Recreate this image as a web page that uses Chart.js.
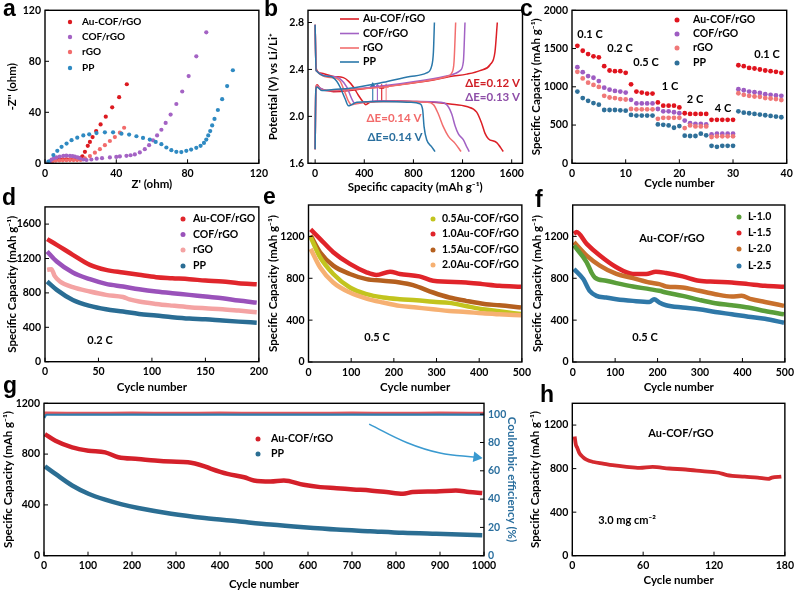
<!DOCTYPE html>
<html>
<head>
<meta charset="utf-8">
<script src="https://cdn.jsdelivr.net/npm/chart.js@4.4.1/dist/chart.umd.min.js"></script>
<style>
  body { margin: 0; background: #fff; width: 798px; height: 592px; position: relative; overflow: hidden; }
  canvas { position: absolute; }
  .bg { background: #fff; }
  .lbl { position: absolute; z-index: 5; font: bold 23px "Liberation Sans", Arial, sans-serif; line-height: 1; }
</style>
</head>
<body>
<div class="lbl" style="left:3px;top:-3px">a</div>
<div class="lbl" style="left:264px;top:-3px">b</div>
<div class="lbl" style="left:520px;top:-3px">c</div>
<div class="lbl" style="left:2px;top:186px">d</div>
<div class="lbl" style="left:263px;top:185px">e</div>
<div class="lbl" style="left:535px;top:188px">f</div>
<div class="lbl" style="left:3px;top:374px">g</div>
<div class="lbl" style="left:540px;top:383px">h</div>
<script>
// ---- a: Nyquist plots (ohm) ----
const aAuX = [2, 3, 4, 5, 6, 8, 10, 12, 14, 16, 18, 19.5, 20.3, 21, 22.4, 24, 25.2, 26.7, 28.7, 31.2, 34.1, 37.7, 41.6, 45.9];
const aAuY = [0.2, 1.2, 2.0, 2.5, 2.8, 3.0, 3.1, 3.1, 3.1, 3.2, 3.3, 3.6, 4.5, 5.5, 9.0, 13.7, 16.8, 20.6, 25.3, 30.5, 36.6, 43.9, 51.9, 62.0];
const aCofX = [1.9, 2.8, 3.7, 5.0, 6.5, 8.3, 10.3, 12.0, 14.0, 15.5, 16.8, 18.3, 19.6, 21.5, 23.3, 26.0, 29.0, 32.0, 36.4, 40.0, 42.0, 45.7, 48.0, 50.4, 53.2, 56.0, 58.4, 60.6, 62.9, 65.3, 67.7, 70.5, 73.7, 77.0, 80.6, 84.9, 90.5];
const aCofY = [0.5, 1.8, 3.0, 4.0, 4.6, 5.3, 5.9, 6.0, 5.9, 5.6, 5.2, 4.6, 3.9, 3.0, 2.6, 3.0, 3.6, 4.0, 4.6, 5.0, 5.4, 5.9, 6.3, 7.0, 8.5, 11.1, 14.2, 18.0, 21.9, 26.3, 31.7, 38.2, 46.5, 56.3, 68.4, 83.9, 102.7];
const aRgoX = [2, 3, 4, 6, 8, 10, 12, 14, 16, 18, 20, 22.4, 25.2, 28, 30.8, 33.6, 36.4, 39.2, 42, 44.4];
const aRgoY = [0.3, 1.0, 1.5, 2.0, 2.2, 2.3, 2.4, 2.5, 2.5, 2.5, 2.6, 3.9, 5.7, 8.3, 11.1, 14.2, 17.5, 20.6, 24.0, 27.9];
const aPpX = [1.9, 4.7, 6.9, 9.3, 12.1, 14.9, 18.1, 21.5, 24.8, 28.9, 33.6, 38.2, 42.9, 47.2, 51.3, 55.0, 58.8, 62.1, 65.3, 68.1, 70.9, 73.7, 76.5, 79.3, 82.0, 84.9, 87.3, 89.2, 90.5, 91.6, 92.7, 93.8, 95.1, 97.0, 99.4, 102.2, 105.4];
const aPpY = [1.3, 6.5, 9.8, 12.9, 15.5, 18.1, 20.1, 21.9, 22.7, 23.7, 24.3, 24.3, 23.2, 22.5, 21.2, 19.9, 18.6, 16.8, 15.0, 12.4, 10.3, 9.0, 8.8, 9.8, 10.8, 12.1, 13.7, 16.0, 18.6, 21.9, 25.3, 29.7, 34.8, 41.8, 50.3, 60.6, 73.0];
const aTicks = [0, 40, 80, 120];

// ---- b: charge/discharge profiles ----
const bAuDisX = [0, 8, 41, 149, 230, 271, 312, 352, 393, 412, 447, 556, 691, 827, 963, 1098, 1234, 1315, 1356, 1383, 1410, 1478, 1532];
const bAuDisY = [2.78, 2.41, 2.37, 2.34, 2.33, 2.30, 2.25, 2.18, 2.12, 2.10, 2.12, 2.13, 2.13, 2.126, 2.12, 2.106, 2.084, 2.036, 1.94, 1.855, 1.81, 1.776, 1.70];
const bAuChX = [0, 6, 16, 40, 95, 149, 285, 420, 691, 963, 1098, 1234, 1342, 1424, 1464, 1483];
const bAuChY = [1.72, 2.25, 2.27, 2.24, 2.22, 2.21, 2.22, 2.24, 2.27, 2.31, 2.34, 2.36, 2.39, 2.44, 2.55, 2.80];
const bCofDisX = [0, 8, 149, 203, 258, 298, 325, 352, 393, 556, 827, 1017, 1071, 1112, 1139, 1166, 1207, 1234, 1255];
const bCofDisY = [2.78, 2.39, 2.34, 2.32, 2.25, 2.15, 2.11, 2.11, 2.12, 2.13, 2.126, 2.12, 2.10, 2.02, 1.92, 1.85, 1.80, 1.74, 1.70];
const bCofChX = [0, 6, 14, 41, 95, 285, 556, 827, 1098, 1180, 1207, 1220];
const bCofChY = [1.72, 2.24, 2.26, 2.24, 2.22, 2.23, 2.26, 2.30, 2.35, 2.39, 2.47, 2.80];
const bRgoDisX = [0, 8, 149, 203, 244, 271, 298, 339, 420, 691, 908, 963, 1003, 1044, 1085, 1139, 1188];
const bRgoDisY = [2.78, 2.39, 2.33, 2.30, 2.20, 2.13, 2.10, 2.11, 2.12, 2.126, 2.12, 2.10, 2.02, 1.91, 1.83, 1.77, 1.70];
const bRgoChX = [0, 6, 14, 41, 95, 285, 556, 827, 1071, 1112, 1131, 1144];
const bRgoChY = [1.72, 2.24, 2.26, 2.23, 2.22, 2.23, 2.25, 2.29, 2.34, 2.37, 2.47, 2.80];
const bPpDisX = [0, 8, 122, 176, 203, 244, 271, 298, 339, 556, 773, 854, 876, 887, 908, 949, 976];
const bPpDisY = [2.78, 2.39, 2.34, 2.30, 2.25, 2.15, 2.09, 2.10, 2.12, 2.126, 2.12, 2.106, 2.05, 1.91, 1.80, 1.74, 1.70];
const bPpChX = [0, 6, 14, 54, 149, 285, 556, 773, 908, 949, 963, 971];
const bPpChY = [1.72, 2.23, 2.25, 2.22, 2.23, 2.24, 2.29, 2.34, 2.37, 2.43, 2.55, 2.80];
const bGapX = [469, 507, 542, 578];          // PP, COF/rGO, Au-COF/rGO, rGO
const bGapLo = [2.13, 2.13, 2.13, 2.13];
const bGapHi = [2.265, 2.255, 2.25, 2.255];
const bXTicks = [0, 400, 800, 1200, 1600];
const bYTicks = [1.6, 2.0, 2.4, 2.8];

// ---- c: rate performance ----
const cCycle = [1, 2, 3, 4, 5, 6, 7, 8, 9, 10, 11, 12, 13, 14, 15, 16, 17, 18, 19, 20, 21, 22, 23, 24, 25, 26, 27, 28, 29, 30, 31, 32, 33, 34, 35, 36, 37, 38, 39];
const cAu = [1535, 1471, 1428, 1398, 1385, 1269, 1213, 1204, 1204, 1183, 1032, 938, 925, 912, 912, 796, 753, 753, 753, 731, 654, 645, 645, 645, 645, 568, 568, 568, 568, 568, 1282, 1269, 1247, 1239, 1226, 1213, 1204, 1196, 1183];
const cCof = [1256, 1191, 1140, 1118, 1075, 989, 963, 946, 938, 925, 830, 783, 783, 783, 783, 710, 680, 680, 667, 654, 559, 525, 516, 516, 508, 378, 387, 387, 387, 387, 968, 955, 938, 929, 920, 903, 895, 886, 882];
const cRgo = [1196, 1110, 1054, 1024, 998, 882, 860, 852, 839, 834, 710, 705, 705, 705, 705, 581, 594, 594, 594, 594, 460, 495, 482, 482, 482, 344, 353, 353, 353, 353, 916, 895, 882, 873, 869, 852, 847, 839, 826];
const cPp = [938, 852, 817, 787, 766, 697, 697, 697, 692, 688, 632, 624, 624, 624, 624, 508, 503, 495, 465, 486, 361, 357, 357, 387, 366, 228, 215, 228, 228, 228, 680, 662, 654, 645, 637, 628, 619, 611, 602];
const cRates = ['0.1 C', '0.2 C', '0.5 C', '1 C', '2 C', '4 C', '0.1 C'];
const cXTicks = [0, 10, 20, 30, 40];
const cYTicks = [0, 500, 1000, 1500, 2000];

// ---- d: cycling at 0.2 C ----
const dX = [2, 11, 26, 42, 57, 73, 88, 104, 119, 135, 150, 166, 181, 198];
const dAu = [1425, 1359, 1243, 1126, 1068, 1037, 1010, 983, 971, 959, 944, 932, 913, 901];
const dCof = [1282, 1165, 1037, 959, 905, 874, 843, 816, 796, 777, 757, 738, 711, 687];
const dRgoX = [2, 6, 9, 14, 26, 42, 57, 73, 79, 88, 104, 119, 135, 150, 166, 181, 198];
const dRgo = [1068, 1076, 998, 932, 866, 816, 777, 752, 725, 700, 672, 652, 633, 621, 610, 594, 575];
const dPp = [932, 835, 718, 649, 610, 583, 555, 536, 517, 501, 493, 478, 466, 454];
const dXTicks = [0, 50, 100, 150, 200];
const dYTicks = [0, 400, 800, 1200, 1600];

// ---- e: Au loading, 0.5 C ----
const eX05 = [5, 27, 58, 97, 136, 175, 214, 253, 292, 330, 369, 408, 447, 498];
const eY05 = [1193, 1001, 841, 712, 648, 616, 600, 590, 575, 565, 535, 505, 485, 458];
const eX10 = [5, 27, 58, 97, 136, 159, 191, 214, 260, 292, 369, 408, 447, 498];
const eY10 = [1267, 1177, 1049, 937, 857, 831, 863, 841, 818, 776, 760, 744, 728, 719];
const eX15 = [5, 27, 58, 97, 136, 175, 214, 245, 292, 330, 369, 416, 447, 498];
const eY15 = [1209, 1049, 921, 841, 792, 776, 760, 735, 664, 616, 584, 552, 542, 520];
const eX20 = [5, 27, 58, 97, 136, 175, 214, 253, 292, 330, 369, 408, 447, 498];
const eY20 = [1081, 905, 760, 664, 606, 568, 536, 520, 504, 488, 478, 465, 456, 446];
const efXTicks = [0, 100, 200, 300, 400, 500];
const efYTicks = [0, 400, 800, 1200];

// ---- f: L series, 0.5 C ----
const fX10 = [3, 33, 44, 52, 79, 103, 142, 181, 204, 220, 259, 298, 336, 375, 414, 453, 498];
const fY10 = [1113, 953, 857, 808, 776, 754, 722, 696, 680, 664, 632, 594, 562, 542, 520, 488, 456];
const fX15 = [3, 9, 33, 64, 103, 142, 173, 196, 220, 259, 298, 336, 375, 414, 453, 498];
const fY15 = [1225, 1241, 1129, 1017, 905, 841, 841, 863, 850, 818, 776, 767, 760, 744, 728, 719];
const fX20 = [3, 33, 64, 103, 142, 181, 204, 220, 259, 298, 336, 375, 398, 421, 453, 498];
const fY20 = [1145, 1017, 921, 841, 802, 760, 744, 722, 712, 680, 648, 626, 632, 600, 574, 536];
const fX25 = [3, 25, 40, 56, 79, 103, 142, 181, 192, 204, 220, 259, 298, 336, 375, 414, 453, 498];
const fY25 = [889, 792, 680, 632, 616, 600, 584, 574, 600, 568, 542, 520, 504, 478, 456, 433, 414, 375];

// ---- g: long cycling ----
const gAuX = [2, 26, 64, 101, 139, 169, 214, 252, 289, 327, 365, 380, 417, 455, 477, 515, 545, 590, 628, 665, 703, 741, 778, 816, 838, 891, 936, 966, 996];
const gAuY = [957, 905, 853, 827, 814, 775, 762, 749, 741, 736, 704, 684, 644, 618, 592, 584, 592, 558, 540, 532, 522, 514, 501, 488, 501, 506, 514, 501, 493];
const gPpX = [2, 26, 64, 101, 139, 177, 214, 289, 365, 440, 515, 590, 665, 741, 816, 891, 996];
const gPpY = [704, 644, 553, 488, 441, 404, 376, 331, 297, 271, 245, 224, 206, 193, 180, 172, 162];
const gCeX = [1, 5, 100, 200, 300, 400, 500, 600, 700, 800, 900, 1000];
const gCeAu = [100.6, 100.6, 100.5, 100.6, 100.5, 100.6, 100.5, 100.5, 100.6, 100.5, 100.6, 100.5];
const gCePp = [97.4, 99.6, 99.7, 99.7, 99.7, 99.7, 99.7, 99.7, 99.7, 99.7, 99.7, 99.7];
const gArrowX = [739, 824, 900, 983];
const gArrowY = [1036, 892, 809, 775];
const gXTicks = [0, 100, 200, 300, 400, 500, 600, 700, 800, 900, 1000];
const gYTicks = [0, 400, 800, 1200];
const gY2Ticks = [0, 20, 40, 60, 80, 100];

// ---- h: high loading ----
const hX = [2, 3, 4, 6, 9, 12, 18, 26, 34, 46, 57, 68, 82, 96, 110, 124, 131, 146, 157, 166, 169, 177];
const hY = [1095, 1020, 996, 942, 906, 882, 861, 846, 831, 816, 807, 816, 801, 792, 777, 762, 741, 726, 717, 705, 717, 726];
const hXTicks = [0, 60, 120, 180];
const hYTicks = [0, 400, 800, 1200];

const FONT = 'Lato, "DejaVu Sans", sans-serif';
Chart.defaults.font.family = FONT;
Chart.defaults.font.weight = 'bold';
Chart.defaults.color = '#000';

// frame, inward ticks, in-plot legend and notes
const deco = {
  id: 'deco',
  afterDatasetsDraw(chart, args, o) {
    const ctx = chart.ctx, a = chart.chartArea;
    const ox = o.ox || 0, oy = o.oy || 0;
    ctx.save();
    ctx.strokeStyle = '#000';
    ctx.lineWidth = 1;
    Object.values(chart.scales).forEach(s => {
      s.ticks.forEach(t => {
        const p = s.getPixelForValue(t.value);
        ctx.beginPath();
        if (s.axis === 'x') { ctx.moveTo(p, a.bottom); ctx.lineTo(p, a.bottom - 4); }
        else if (s.position === 'right') { ctx.moveTo(a.right, p); ctx.lineTo(a.right - 4, p); }
        else { ctx.moveTo(a.left, p); ctx.lineTo(a.left + 4, p); }
        ctx.stroke();
      });
    });
    ctx.lineWidth = 1.4;
    ctx.strokeRect(a.left, a.top, a.right - a.left, a.bottom - a.top);

    if (o.legend) {
      const L = o.legend;
      ctx.font = 'bold ' + (L.size || 10.5) + 'px ' + FONT;
      ctx.textBaseline = 'middle';
      ctx.textAlign = 'left';
      L.order.forEach((di, i) => {
        const ds = chart.data.datasets[di];
        const y = L.rows[i] - oy;
        ctx.fillStyle = ds.borderColor;
        ctx.strokeStyle = ds.borderColor;
        if (L.line) {
          ctx.lineWidth = 1.6;
          ctx.beginPath(); ctx.moveTo(L.mx - ox, y); ctx.lineTo(L.mx2 - ox, y); ctx.stroke();
        } else {
          ctx.beginPath(); ctx.arc(L.mx - ox, y, L.r || 2.5, 0, Math.PI * 2); ctx.fill();
        }
        ctx.fillStyle = '#000';
        ctx.fillText(ds.label, L.tx - ox, y);
      });
    }
    (o.texts || []).forEach(t => {
      ctx.font = 'bold ' + (t.size || 11) + 'px ' + FONT;
      ctx.fillStyle = t.color || '#000';
      ctx.textAlign = t.align || 'center';
      ctx.textBaseline = 'middle';
      ctx.fillText(t.text, t.x - ox, t.y - oy);
    });
    ctx.restore();
  }
};
Chart.register(deco);

function pts(xs, ys) { return xs.map((x, i) => ({ x: x, y: ys[i] })); }
function dots(label, xs, ys, color, r) {
  return { label, data: pts(xs, ys), backgroundColor: color, borderColor: color, pointRadius: r, borderWidth: 0, showLine: false };
}
function curve(label, xs, ys, color, w) {
  return { label, data: pts(xs, ys), backgroundColor: color, borderColor: color, borderWidth: w,
    pointRadius: 0, showLine: true, cubicInterpolationMode: 'monotone' };
}

function axis(pos, o, fit) {
  return {
    type: 'linear', position: pos, min: o.min, max: o.max,
    afterBuildTicks: s => { s.ticks = o.ticks.map(v => ({ value: v })); },
    afterFit: fit,
    grid: { display: false, drawTicks: false },
    border: { display: false },
    ticks: { padding: 4, color: o.color || '#000', font: { size: 10.5, weight: 'bold' }, callback: o.fmt || (v => v) },
    title: { display: true, text: o.title, color: o.color || '#000', font: { size: 11.5, weight: 'bold' },
      padding: { top: o.pt == null ? 4 : o.pt, bottom: o.pb == null ? 4 : o.pb } }
  };
}

// box = canvas [left, top, w, h] on the page, plot = [L, T, R, B] page pixels of the plot frame
function makePanel(box, plot, datasets, sc, dec, cls) {
  const [left, top, w, h] = box, [L, T, R, B] = plot;
  const cv = document.createElement('canvas');
  cv.width = w; cv.height = h;
  cv.style.left = left + 'px'; cv.style.top = top + 'px';
  if (cls) cv.className = cls;
  document.body.appendChild(cv);
  const scales = {
    x: axis('bottom', sc.x, s => { s.height = top + h - B; }),
    y: axis('left', sc.y, s => { s.width = L - left; })
  };
  let padRight = left + w - R;
  if (sc.y2) {
    scales.y2 = axis('right', sc.y2, s => { s.width = left + w - R; });
    padRight = 0;
  }
  dec.ox = left; dec.oy = top;
  new Chart(cv, {
    type: 'scatter',
    data: { datasets },
    options: {
      responsive: false, animation: false, events: [],
      layout: { padding: { top: T - top, right: padRight, left: 0, bottom: 0 } },
      plugins: { legend: { display: false }, tooltip: { enabled: false }, deco: dec },
      scales
    }
  });
}

const CAP = 'Specific Capacity (mAh g\u207B\u00B9)';

// a
makePanel([1, 0, 271, 195], [45, 8.3, 259.3, 163.3], [
  dots('PP', aPpX, aPpY, '#2f8ac2', 2.1),
  dots('COF/rGO', aCofX, aCofY, '#a463c4', 2.1),
  dots('rGO', aRgoX, aRgoY, '#f26b6b', 2.1),
  dots('Au-COF/rGO', aAuX, aAuY, '#dc1a20', 2.1)
], {
  x: { min: 0, max: 120, ticks: aTicks, title: "Z' (ohm)", pb: 4.1 },
  y: { min: 0, max: 120, ticks: aTicks, title: "-Z'' (ohm)" }
}, { legend: { order: [3, 1, 2, 0], mx: 70, tx: 82, rows: [22, 37, 52, 68], size: 10, r: 2.2 } });

// b
const bDatasets = [
  curve('PP', bPpDisX, bPpDisY, '#2a78aa', 1.5),
  curve('PP', bPpChX, bPpChY, '#2a78aa', 1.5),
  curve('rGO', bRgoDisX, bRgoDisY, '#f26e6e', 1.5),
  curve('rGO', bRgoChX, bRgoChY, '#f26e6e', 1.5),
  curve('COF/rGO', bCofDisX, bCofDisY, '#a262c4', 1.5),
  curve('COF/rGO', bCofChX, bCofChY, '#a262c4', 1.5),
  curve('Au-COF/rGO', bAuDisX, bAuDisY, '#dc1f26', 1.5),
  curve('Au-COF/rGO', bAuChX, bAuChY, '#dc1f26', 1.5)
];
const bGapColors = ['#2a78aa', '#a262c4', '#dc1f26', '#f58a8a'];
bGapX.forEach((x, i) => {
  bDatasets.push({ label: 'gap', data: pts([x, x], [bGapLo[i], bGapHi[i]]), borderColor: bGapColors[i],
    backgroundColor: bGapColors[i], borderWidth: 1.1, showLine: true, pointRadius: [0, 2.2], pointStyle: 'triangle' });
});
makePanel([262, 0, 273, 195], [308, 8.3, 522.5, 163.3], bDatasets, {
  x: { min: -58, max: 1688, ticks: bXTicks, title: 'Specific capacity (mAh g\u207B\u00B9)', pb: 1.1 },
  y: { min: 1.6, max: 2.904, ticks: bYTicks, fmt: v => v.toFixed(1), title: 'Potential (V) vs Li/Li\u207A' }
}, {
  legend: { order: [6, 4, 2, 0], line: true, mx: 340, mx2: 359, tx: 363, rows: [19, 33.5, 48, 62], size: 10.5 },
  texts: [
    { text: '\u0394E=0.12 V', x: 520, y: 83, align: 'right', color: '#d01f26', size: 11.5 },
    { text: '\u0394E=0.13 V', x: 520, y: 97, align: 'right', color: '#8e4ea8', size: 11.5 },
    { text: '\u0394E=0.14 V', x: 394, y: 118, color: '#f26a6a', size: 11.5 },
    { text: '\u0394E=0.14 V', x: 395, y: 137, color: '#2a6f9e', size: 11.5 }
  ]
});

// c
makePanel([525, 0, 273, 195], [572, 8.3, 786.7, 163.3], [
  dots('PP', cCycle, cPp, '#2f7099', 2.4),
  dots('rGO', cCycle, cRgo, '#f07878', 2.4),
  dots('COF/rGO', cCycle, cCof, '#9e5cc2', 2.4),
  dots('Au-COF/rGO', cCycle, cAu, '#e0141e', 2.4)
], {
  x: { min: 0, max: 40, ticks: cXTicks, title: 'Cycle number', pb: 5 },
  y: { min: 0, max: 2000, ticks: cYTicks, title: CAP }
}, {
  legend: { order: [3, 2, 1, 0], mx: 677, tx: 693, rows: [20, 34, 48, 63] },
  texts: [
    { text: cRates[0], x: 590, y: 34 }, { text: cRates[1], x: 620, y: 48 }, { text: cRates[2], x: 646, y: 62 },
    { text: cRates[3], x: 670, y: 86 }, { text: cRates[4], x: 695, y: 99 }, { text: cRates[5], x: 723, y: 108 },
    { text: cRates[6], x: 767, y: 54 }
  ]
});

// d
makePanel([1, 192, 271, 207], [45, 206.9, 259.3, 361.7], [
  curve('PP', dX, dPp, '#2a6d94', 4.5),
  curve('rGO', dRgoX, dRgo, '#f4a3a3', 4.5),
  curve('COF/rGO', dX, dCof, '#9a52ba', 4.5),
  curve('Au-COF/rGO', dX, dAu, '#e0262c', 4.5)
], {
  x: { min: 0, max: 200, ticks: dXTicks, title: 'Cycle number', pb: 5.1 },
  y: { min: 0, max: 1800, ticks: dYTicks, title: CAP }
}, {
  legend: { order: [3, 2, 1, 0], mx: 183, tx: 193, rows: [219, 234.5, 250, 266] },
  texts: [{ text: '0.2 C', x: 100, y: 340 }]
});

// e
makePanel([262, 192, 273, 207], [308.5, 205, 523, 362], [
  curve('2.0Au-COF/rGO', eX20, eY20, '#f6b072', 4.5),
  curve('0.5Au-COF/rGO', eX05, eY05, '#c2c41e', 4.5),
  curve('1.5Au-COF/rGO', eX15, eY15, '#b5601f', 4.5),
  curve('1.0Au-COF/rGO', eX10, eY10, '#e0242a', 4.5)
], {
  x: { min: 0, max: 500, ticks: efXTicks, title: 'Cycle number', pb: 5.1 },
  y: { min: 0, max: 1500, ticks: efYTicks, title: CAP }
}, {
  legend: { order: [1, 3, 2, 0], mx: 433, tx: 442, rows: [219, 234, 250, 265] },
  texts: [{ text: '0.5 C', x: 377, y: 337 }]
});

// f
makePanel([526, 192, 272, 207], [572.7, 205, 786.7, 362], [
  curve('L-2.5', fX25, fY25, '#2f78a8', 4.5),
  curve('L-1.0', fX10, fY10, '#5a9e3a', 4.5),
  curve('L-2.0', fX20, fY20, '#c8702c', 4.5),
  curve('L-1.5', fX15, fY15, '#e0242a', 4.5)
], {
  x: { min: 0, max: 500, ticks: efXTicks, title: 'Cycle number', pb: 5.1 },
  y: { min: 0, max: 1500, ticks: efYTicks, title: CAP }
}, {
  legend: { order: [1, 3, 2, 0], mx: 739, tx: 748, rows: [217, 233, 249, 266] },
  texts: [{ text: 'Au-COF/rGO', x: 672, y: 238 }, { text: '0.5 C', x: 645, y: 337 }]
});

// g
makePanel([0, 393, 524, 199], [44, 402.3, 484, 555.7], [
  Object.assign(curve('PP CE', gCeX, gCePp, '#2f7fb0', 2.2), { yAxisID: 'y2' }),
  Object.assign(curve('Au CE', gCeX, gCeAu, '#e2565c', 3.5), { yAxisID: 'y2' }),
  curve('PP', gPpX, gPpY, '#2b6e93', 4.5),
  curve('Au-COF/rGO', gAuX, gAuY, '#d4202a', 4.5),
  { label: 'arrow', data: pts(gArrowX, gArrowY), borderColor: '#3a9ad0', backgroundColor: '#3a9ad0', borderWidth: 1.6,
    showLine: true, tension: 0.4, pointStyle: 'triangle', pointRadius: [0, 0, 0, 4.5], rotation: 98 }
], {
  x: { min: 0, max: 1000, ticks: gXTicks, title: 'Cycle number', pb: 1.1 },
  y: { min: 0, max: 1200, ticks: gYTicks, title: CAP, pt: 1.1 },
  y2: { min: 0, max: 107.7, ticks: gY2Ticks, title: 'Coulombic efficiency (%)', color: '#2b6f9e', pt: 5.1 }
}, {
  legend: { order: [3, 2], mx: 258, tx: 271, rows: [439, 454] }
}, 'bg');

// h
makePanel([524, 393, 274, 199], [572.3, 400, 786.7, 555.7], [
  curve('Au-COF/rGO', hX, hY, '#d42a2f', 3.8)
], {
  x: { min: 0, max: 180, ticks: hXTicks, title: 'Cycle number', pb: 5.1 },
  y: { min: 0, max: 1400, ticks: hYTicks, title: CAP }
}, {
  texts: [{ text: 'Au-COF/rGO', x: 681, y: 433 }, { text: '3.0 mg cm\u207B\u00B2', x: 627, y: 520 }]
}, 'bg');
</script>
</body>
</html>
